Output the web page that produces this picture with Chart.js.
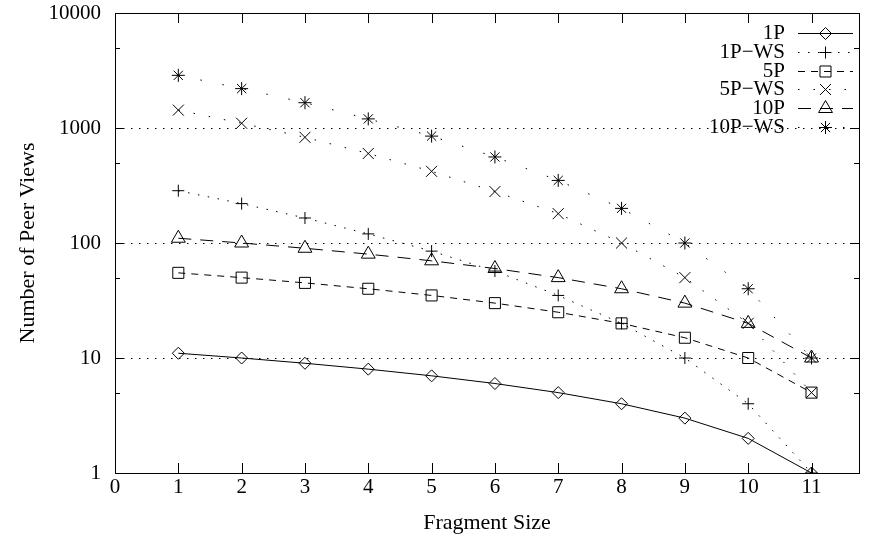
<!DOCTYPE html>
<html>
<head>
<meta charset="utf-8">
<script src="https://cdn.jsdelivr.net/npm/chart.js@4/dist/chart.umd.min.js"></script>
<style>
  html, body { margin: 0; background: #fff; }
  #wrap { width: 871px; height: 540px; }
</style>
</head>
<body>
<div id="wrap"><canvas id="chart"></canvas></div>
<script>
// data
const fragmentSizes = [1, 2, 3, 4, 5, 6, 7, 8, 9, 10, 11];
const views1P = [11, 10, 9, 8, 7, 6, 5, 4, 3, 2, 1];
const views1PWS = [285, 220, 165, 120, 85, 57, 35, 20, 10, 4, 1];
const views5P = [55, 50, 45, 40, 35, 30, 25, 20, 15, 10, 5];
const views5PWS = [1430, 1100, 830, 600, 420, 280, 180, 100, 50, 20, 5];
const views10P = [110, 100, 90, 80, 70, 60, 50, 40, 30, 20, 10];
const views10PWS = [2870, 2200, 1660, 1200, 850, 560, 350, 200, 100, 40, 10];

const xTicks = [0, 1, 2, 3, 4, 5, 6, 7, 8, 9, 10, 11];
const yTicks = [1, 10, 100, 1000, 10000];
const yMinorTicks = [5, 50, 500, 5000];

const FONT = '"Liberation Serif", "Times New Roman", serif';
Chart.defaults.font.family = FONT;
Chart.defaults.font.size = 21;
Chart.defaults.color = '#000';

function series(label, values, style, radius, dash) {
  return {
    label,
    data: fragmentSizes.map((x, i) => ({ x, y: values[i] })),
    borderColor: '#000',
    borderWidth: 1,
    borderDash: dash,
    pointStyle: style,
    pointRadius: radius,
    pointBorderWidth: 1,
    pointBorderColor: '#000',
    pointBackgroundColor: 'rgba(0,0,0,0)',
    fill: false,
    tension: 0
  };
}

// box around the plot with gnuplot style inward ticks
const frameTicks = {
  id: 'frameTicks',
  afterDraw(chart) {
    const { ctx, chartArea: a } = chart;
    const xs = chart.scales.x, ys = chart.scales.y;
    ctx.save();
    ctx.strokeStyle = '#000';
    ctx.lineWidth = 1;
    ctx.setLineDash([]);
    ctx.strokeRect(a.left + 0.5, a.top + 0.5, a.right - a.left, a.bottom - a.top);
    ctx.beginPath();
    xTicks.forEach(v => {
      const px = Math.round(xs.getPixelForValue(v)) + 0.5;
      ctx.moveTo(px, a.bottom); ctx.lineTo(px, a.bottom - 10);
      ctx.moveTo(px, a.top); ctx.lineTo(px, a.top + 10);
    });
    yTicks.forEach(v => {
      const py = Math.round(ys.getPixelForValue(v)) + 0.5;
      ctx.moveTo(a.left, py); ctx.lineTo(a.left + 9, py);
      ctx.moveTo(a.right, py); ctx.lineTo(a.right - 9, py);
    });
    yMinorTicks.forEach(v => {
      const py = Math.round(ys.getPixelForValue(v)) + 0.5;
      ctx.moveTo(a.left, py); ctx.lineTo(a.left + 5, py);
      ctx.moveTo(a.right, py); ctx.lineTo(a.right - 5, py);
    });
    ctx.stroke();
    ctx.restore();
  }
};

// legend: text on the left, line sample with marker on the right
const sideLegend = {
  id: 'sideLegend',
  afterDraw(chart) {
    const { ctx, chartArea: a } = chart;
    ctx.save();
    ctx.font = '21px ' + FONT;
    ctx.textAlign = 'right';
    ctx.textBaseline = 'middle';
    chart.data.datasets.forEach((ds, i) => {
      const y = Math.round(a.top + 20 + i * 18.8) + 0.5;
      const x1 = a.right - 61, x2 = a.right - 6;
      ctx.fillStyle = '#000';
      ctx.fillText(ds.label, a.right - 74, y);
      ctx.strokeStyle = '#000';
      ctx.lineWidth = 1;
      ctx.setLineDash(ds.borderDash || []);
      ctx.beginPath();
      ctx.moveTo(x1, y);
      ctx.lineTo(x2, y);
      ctx.stroke();
      ctx.setLineDash([]);
      ctx.fillStyle = 'rgba(0,0,0,0)';
      Chart.helpers.drawPoint(ctx, { pointStyle: ds.pointStyle, radius: ds.pointRadius, borderWidth: 1 }, (x1 + x2) / 2, y);
    });
    ctx.restore();
  }
};

new Chart(document.getElementById('chart'), {
  type: 'line',
  data: {
    datasets: [
      series('1P', views1P, 'rectRot', 6, []),
      series('1P\u2212WS', views1PWS, 'cross', 6, [1.5, 8.5]),
      series('5P', views5P, 'rect', 7.8, [7, 6]),
      series('5P\u2212WS', views5PWS, 'crossRot', 7.8, [1.5, 14]),
      series('10P', views10P, 'triangle', 8, [13, 9]),
      series('10P\u2212WS', views10PWS, 'star', 6.5, [1.5, 21])
    ]
  },
  options: {
    responsive: true,
    maintainAspectRatio: false,
    animation: false,
    layout: { padding: { top: 13, right: 12, left: 0, bottom: 0 } },
    plugins: { legend: { display: false }, tooltip: { enabled: false } },
    scales: {
      x: {
        type: 'linear',
        min: 0,
        max: 11.75,
        afterBuildTicks: s => { s.ticks = xTicks.map(v => ({ value: v })); },
        afterFit: s => { s.height = 67; s.paddingLeft = 0; s.paddingRight = 0; },
        grid: { display: false, drawTicks: false },
        border: { display: false },
        ticks: { padding: 2, maxRotation: 0, autoSkip: false, font: { size: 21 } },
        title: { display: true, text: 'Fragment Size', font: { size: 22 }, padding: { top: 0, bottom: 4 } }
      },
      y: {
        type: 'logarithmic',
        min: 1,
        max: 10000,
        afterBuildTicks: s => { s.ticks = yTicks.map(v => ({ value: v })); },
        afterFit: s => { s.width = 115; s.paddingTop = 0; s.paddingBottom = 0; },
        grid: {
          drawTicks: false,
          lineWidth: 1,
          color: c => (c.tick && (c.tick.value === 1 || c.tick.value === 10000)) ? 'rgba(0,0,0,0)' : '#000'
        },
        border: { display: false, dash: [1.5, 6.5] },
        ticks: { padding: 14, font: { size: 21 }, callback: v => String(v) },
        title: { display: true, text: 'Number of Peer Views', font: { size: 22 }, padding: { top: 15, bottom: 0 } }
      }
    }
  },
  plugins: [frameTicks, sideLegend]
});
</script>
</body>
</html>
